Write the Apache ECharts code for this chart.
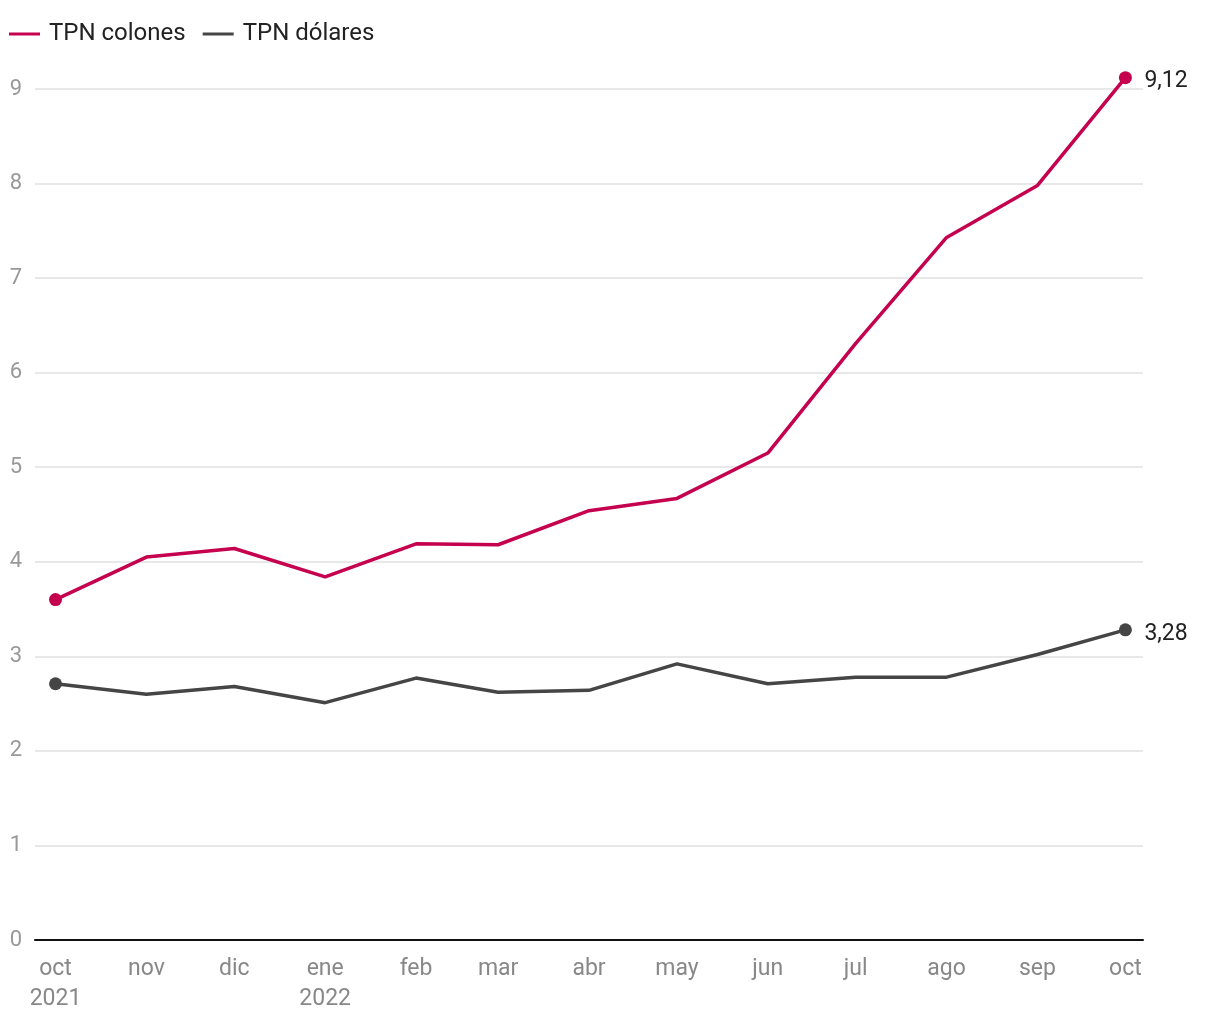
<!DOCTYPE html>
<html><head><meta charset="utf-8">
<script src="https://cdn.jsdelivr.net/npm/echarts@6/dist/echarts.min.js"></script>
<style>html,body{margin:0;padding:0;background:#fff}#c{width:1220px;height:1020px}</style>
</head><body><div id="c"></div>
<script>
const months = [[2021,9],[2021,10],[2021,11],[2022,0],[2022,1],[2022,2],[2022,3],[2022,4],[2022,5],[2022,6],[2022,7],[2022,8],[2022,9]];
const monthNames = ['ene','feb','mar','abr','may','jun','jul','ago','sep','oct','nov','dic'];
const colones = [3.60, 4.05, 4.14, 3.84, 4.19, 4.18, 4.54, 4.67, 5.15, 6.31, 7.43, 7.98, 9.12];
const dolares = [2.71, 2.60, 2.68, 2.51, 2.77, 2.62, 2.64, 2.92, 2.71, 2.78, 2.78, 3.02, 3.28];

const ts = months.map(m => Date.UTC(m[0], m[1], 1) / 86400000);
const last = ts.length - 1;
const fmt = v => v.toFixed(2).replace('.', ',');
const symSize = (v, p) => (p.dataIndex === 0 || p.dataIndex === last) ? 13 : 0;

const chart = echarts.init(document.getElementById('c'));
chart.setOption({
  animation: false,
  textStyle: { fontFamily: 'Roboto' },
  legend: {
    left: 4, top: 17, itemGap: 17, itemWidth: 31, itemHeight: 3,
    icon: 'rect',
    textStyle: { fontSize: 24, color: '#222', fontFamily: 'Roboto', padding: [0, 0, 0, 4] },
    data: ['TPN colones', 'TPN dólares']
  },
  grid: { left: 35, right: 77, top: 89, bottom: 80, containLabel: false },
  xAxis: {
    type: 'value', min: ts[0] - 7, max: ts[last] + 6,
    axisLine: { show: true, onZero: false, lineStyle: { color: '#111', width: 2 } },
    axisTick: { show: false },
    splitLine: { show: false },
    axisLabel: {
      customValues: ts,
      fontSize: 23, color: '#888', lineHeight: 30, margin: 14,
      hideOverlap: false,
      formatter: function (v) {
        const d = new Date(v * 86400000);
        const name = monthNames[d.getUTCMonth()];
        if (v === ts[0] || d.getUTCMonth() === 0) return name + '\n' + d.getUTCFullYear();
        return name;
      }
    }
  },
  yAxis: {
    type: 'value', min: 0, max: 9, interval: 1,
    axisLine: { show: false }, axisTick: { show: false },
    splitLine: { lineStyle: { color: '#e0e0e0', width: 1.5 } },
    axisLabel: { fontSize: 22, color: '#999', margin: 13 }
  },
  series: [
    {
      name: 'TPN colones', type: 'line', clip: false,
      data: ts.map((t, i) => [t, colones[i]]),
      color: '#c4004f',
      lineStyle: { width: 3.5, color: '#c4004f' },
      itemStyle: { color: '#c4004f' },
      symbol: 'circle', symbolSize: symSize, showSymbol: true,
      endLabel: { show: true, formatter: p => fmt(p.value[1]), fontSize: 23, color: '#222', distance: 19, offset: [0, 4] }
    },
    {
      name: 'TPN dólares', type: 'line', clip: false,
      data: ts.map((t, i) => [t, dolares[i]]),
      color: '#454545',
      lineStyle: { width: 3.5, color: '#454545' },
      itemStyle: { color: '#454545' },
      symbol: 'circle', symbolSize: symSize, showSymbol: true,
      endLabel: { show: true, formatter: p => fmt(p.value[1]), fontSize: 23, color: '#222', distance: 19, offset: [0, 4] }
    }
  ]
});
</script></body></html>
